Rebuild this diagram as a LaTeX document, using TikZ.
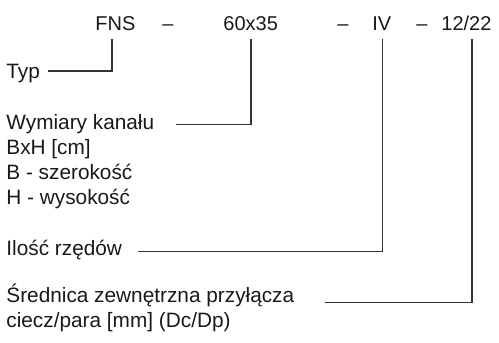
\documentclass[tikz,border=0pt]{standalone}
\usepackage{fontspec}
\setmainfont{Liberation Sans}
\begin{document}
\begin{tikzpicture}[x=0.5pt,y=-0.5pt,
    every node/.style={font=\fontsize{10pt}{12.5pt}\selectfont,text=black!90},
    part/.style={anchor=base west,inner xsep=0pt,inner ysep=4.5pt,text depth=0pt},
    desc/.style={anchor=base west,inner sep=0pt,font=\fontsize{10.4pt}{12.5pt}\selectfont},
    link/.style={line width=0.55pt,draw=black!80}]
  \useasboundingbox (0,0) rectangle (499,343);
  % the type code
  \node[part] (fns)  at (95,30)  {FNS};
  \node[part] (d1)   at (162,30) {--};
  \node[part] (dim)  at (223,30) {60x35};
  \node[part] (d2)   at (337,30) {--};
  \node[part] (rows) at (372,30) {IV};
  \node[part] (d3)   at (416,30) {--};
  \node[part] (pipe) at (441,30) {12/22};
  % what each part means
  \node[desc] (typ)  at (6,78)    {Typ};
  \node[desc] (wym)  at (6,129)   {Wymiary kanału};
  \node[desc] (wym2) at (6,154)   {BxH [cm]};
  \node[desc] (wym3) at (6,179)   {B - szerokość};
  \node[desc] (wym4) at (6,204)   {H - wysokość};
  \node[desc] (il)   at (6,255)   {Ilość rzędów};
  \node[desc] (sr)   at (6,302.5) {Średnica zewnętrzna przyłącza};
  \node[desc] (sr2)  at (6,327)   {ciecz/para [mm] (Dc/Dp)};
  % corners of the leader lines
  \coordinate (k1) at (112,71);
  \coordinate (k2) at (251,124.5);
  \coordinate (k3) at (382.5,251.5);
  \coordinate (k4) at (472,302.7);
  \draw[link,shorten <=4pt]   (k1 -| typ.east) -- (k1) -- (k1 |- fns.south);
  \draw[link,shorten <=10.5pt] (k2 -| wym.east) -- (k2) -- (k2 |- dim.south);
  \draw[link,shorten <=8pt]   (k3 -| il.east)  -- (k3) -- (k3 |- rows.south);
  \draw[link,shorten <=15pt]  (k4 -| sr.east)  -- (k4) -- (k4 |- pipe.south);
\end{tikzpicture}
\end{document}
